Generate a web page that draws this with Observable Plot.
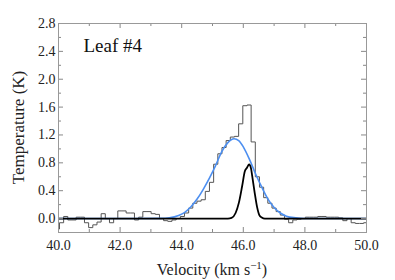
<!DOCTYPE html>
<html><head><meta charset="utf-8">
<script src="https://cdn.jsdelivr.net/npm/d3@7"></script>
<script src="https://cdn.jsdelivr.net/npm/@observablehq/plot@0.6"></script>
<style>
html,body{margin:0;padding:0;background:#fff;}
svg, svg text {font-family: "Liberation Serif", "Times New Roman", serif !important;}
</style></head><body><div id="chart"></div>
<script>
// Observed spectrum: channel centre velocities (km/s) and brightness temperature (K)
const velocity = [39.964,40.099,40.234,40.370,40.505,40.640,40.776,40.911,41.046,41.182,
  41.317,41.452,41.587,41.723,41.858,41.993,42.128,42.264,42.399,42.534,
  42.670,42.805,42.940,43.075,43.211,43.346,43.481,43.616,43.752,43.887,
  44.022,44.158,44.293,44.428,44.563,44.699,44.834,44.969,45.105,45.240,
  45.375,45.510,45.646,45.781,45.916,46.052,46.187,46.322,46.457,46.593,
  46.728,46.863,46.999,47.134,47.269,47.404,47.540,47.675,47.810,47.946,
  48.081,48.216,48.351,48.487,48.622,48.757,48.892,49.028,49.163,49.298,
  49.434,49.569,49.704,49.839,49.975,50.110];
const temperature = [-0.15,-0.06,0.03,-0.02,-0.02,0.02,0.02,-0.06,-0.13,-0.09,
  -0.05,0.07,0.00,-0.06,0.00,0.11,0.11,0.08,0.08,-0.02,
  0.02,0.10,0.10,0.07,0.06,0.00,-0.03,-0.04,-0.02,0.00,
  0.03,0.08,0.15,0.22,0.25,0.27,0.39,0.52,0.78,0.93,
  1.02,1.12,1.17,1.18,1.36,1.62,1.63,1.10,0.60,0.45,
  0.30,0.22,0.15,0.10,0.05,-0.01,-0.06,-0.02,-0.01,0.00,
  0.02,0.02,0.02,0.03,0.03,0.02,0.02,0.02,0.01,-0.03,
  0.00,-0.06,-0.07,-0.07,-0.06,-0.06];

// Broad Gaussian fit (blue)
const fitVelocity = [40.0,42.5,43.3,43.6,43.9,44.1,44.3,44.5,44.7,44.9,45.1,45.3,45.5,45.7,45.85,46.0,46.2,46.4,46.6,46.8,47.0,47.2,47.4,47.7,48.0,50.0];
const fitTemperature = [0,0,0.003,0.012,0.045,0.09,0.17,0.28,0.42,0.58,0.76,0.96,1.09,1.145,1.12,1.03,0.85,0.64,0.45,0.28,0.16,0.08,0.035,0.01,0,0];

// Narrow component (black)
const narrowVelocity = [40.0,45.5,45.62,45.75,45.855,45.96,46.05,46.12,46.19,46.25,46.29,46.37,46.45,46.52,46.6,46.7,50.0];
const narrowTemperature = [0,0,0.01,0.08,0.225,0.46,0.68,0.73,0.776,0.72,0.61,0.37,0.16,0.05,0.015,0,0];

const majorX = [40,42,44,46,48,50];
const minorX = [41,43,45,47,49];
const majorY = [0,0.4,0.8,1.2,1.6,2.0,2.4,2.8];
const minorY = [0.2,0.6,1.0,1.4,1.8,2.2,2.6];
const panelLabel = "Leaf #4";
const xTitle = ["Velocity (km s", "\u22121", ")"];
const yTitle = "Temperature (K)";

const serif = "Liberation Serif";
const W = 395, H = 280, mL = 58, mR = 29, mT = 23, mB = 48;
const pw = W - mL - mR, ph = H - mT - mB;
const spectrum = velocity.map((v, i) => ({v, t: temperature[i]}));
const fit = fitVelocity.map((v, i) => ({v, t: fitTemperature[i]}));
const narrow = narrowVelocity.map((v, i) => ({v, t: narrowTemperature[i]}));
const tickColor = "#888";
const major = 5, minor = 3;

const plot = Plot.plot({
  width: W, height: H,
  marginLeft: mL, marginRight: mR, marginTop: mT, marginBottom: mB,
  style: {fontFamily: serif, fontSize: "14px", color: "#222", background: "#fff"},
  x: {domain: [40, 50]},
  y: {domain: [-0.2, 2.8]},
  marks: [
    Plot.line(spectrum, {x: "v", y: "t", curve: "step", stroke: "#555", strokeWidth: 1, clip: true}),
    Plot.line(fit, {x: "v", y: "t", curve: "monotone-x", stroke: "#4d8ff0", strokeWidth: 1.6, clip: true}),
    Plot.line(narrow, {x: "v", y: "t", curve: "monotone-x", stroke: "#000", strokeWidth: 1.8, clip: true}),
    // inward ticks on all four sides
    Plot.tickX(majorX, {x: d => d, insetTop: ph - major, stroke: tickColor}),
    Plot.tickX(minorX, {x: d => d, insetTop: ph - minor, stroke: tickColor}),
    Plot.tickX(majorX, {x: d => d, insetBottom: ph - major, stroke: tickColor}),
    Plot.tickX(minorX, {x: d => d, insetBottom: ph - minor, stroke: tickColor}),
    Plot.tickY(majorY, {y: d => d, insetRight: pw - major, stroke: tickColor}),
    Plot.tickY(minorY, {y: d => d, insetRight: pw - minor, stroke: tickColor}),
    Plot.tickY(majorY, {y: d => d, insetLeft: pw - major, stroke: tickColor}),
    Plot.tickY(minorY, {y: d => d, insetLeft: pw - minor, stroke: tickColor}),
    Plot.axisX(majorX, {tickSize: 0, tickPadding: 8, tickFormat: d => d.toFixed(1), fontSize: 14, fontFamily: serif, label: null}),
    Plot.axisY(majorY, {tickSize: 0, tickPadding: 3, tickFormat: d => d.toFixed(1), fontSize: 14, fontFamily: serif, label: null}),
    Plot.frame({stroke: "#999", strokeWidth: 1}),
    Plot.text([panelLabel], {frameAnchor: "top-left", dx: 25, dy: 15, text: d => d, fontSize: 19, fontFamily: serif, textAnchor: "start", lineAnchor: "top", fill: "#111"})
  ]
});
document.getElementById("chart").appendChild(plot);

// axis titles with superscript
const svg = d3.select(plot);
const xt = svg.append("text")
  .attr("x", mL + pw / 2).attr("y", 275)
  .attr("text-anchor", "middle")
  .attr("font-family", serif)
  .attr("font-size", 16).attr("fill", "#222");
xt.append("tspan").text(xTitle[0]);
xt.append("tspan").attr("dy", -6).attr("font-size", 11).text(xTitle[1]);
xt.append("tspan").attr("dy", 6).text(xTitle[2]);
svg.append("text")
  .attr("transform", `translate(24,${mT + ph / 2}) rotate(-90)`)
  .attr("text-anchor", "middle")
  .attr("font-family", serif)
  .attr("font-size", 17).attr("fill", "#222")
  .text(yTitle);
</script></body></html>
